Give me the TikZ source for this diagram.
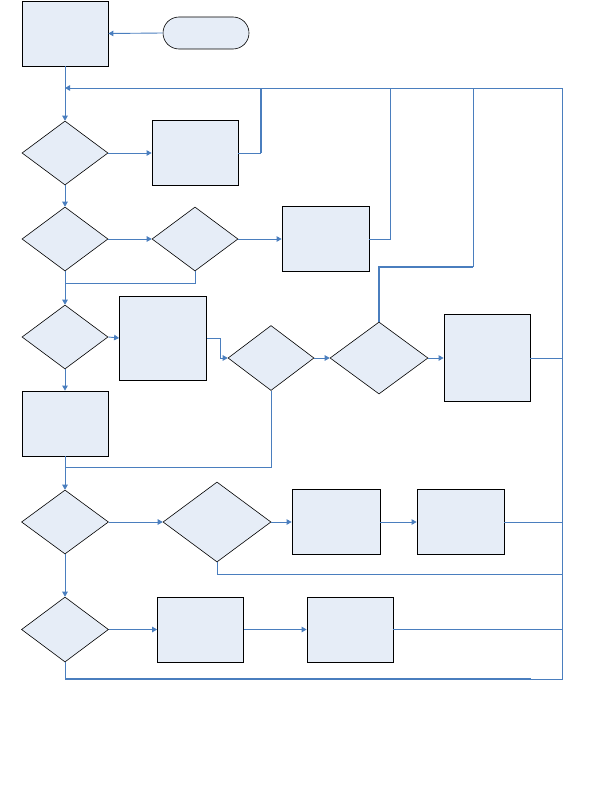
\documentclass[tikz,border=0pt]{standalone}
\usetikzlibrary{shapes.geometric,arrows.meta}
\definecolor{fillc}{RGB}{230,237,247}
\definecolor{linec}{RGB}{74,126,190}
\begin{document}
\begin{tikzpicture}[x=1pt,y=-1pt,
  box/.style={draw=black,fill=fillc,line width=0.8pt,inner sep=0pt,rectangle},
  dia/.style={draw=black,fill=fillc,line width=0.6pt,inner sep=0pt,diamond},
  term/.style={draw=black,fill=fillc,line width=0.6pt,inner sep=0pt,rectangle,rounded corners=16pt,minimum width=86pt,minimum height=32pt},
  conn/.style={draw=linec,line width=0.9pt},
  thickconn/.style={draw=linec,line width=1.8pt},
  arr/.style={conn,-{Triangle[length=5pt,width=5.5pt]}}]
\useasboundingbox (0,0) rectangle (589,808);
% nodes
\node[box,minimum width=86pt,minimum height=65pt] (A) at (65,33.5) {};
\node[term] (T) at (206,33) {};
\node[dia,minimum width=86pt,minimum height=64pt] (D1) at (65,153) {};
\node[box,minimum width=86pt,minimum height=65pt] (B1) at (195,153) {};
\node[dia,minimum width=86pt,minimum height=64pt] (D2) at (65,239) {};
\node[dia,minimum width=86pt,minimum height=64pt] (D3) at (195,239) {};
\node[box,minimum width=87pt,minimum height=65pt] (B2) at (325.5,239) {};
\node[dia,minimum width=86pt,minimum height=64pt] (D4) at (65,337) {};
\node[box,minimum width=87pt,minimum height=84pt] (B3) at (163,338) {};
\node[dia,minimum width=86pt,minimum height=65pt] (D5) at (271,358) {};
\node[dia,minimum width=98pt,minimum height=72pt] (D6) at (379,358) {};
\node[box,minimum width=86pt,minimum height=87pt] (B4) at (487,358) {};
\node[box,minimum width=86pt,minimum height=65pt] (B5) at (65,423.5) {};
\node[dia,minimum width=87pt,minimum height=64pt] (D7) at (65,522) {};
\node[dia,minimum width=108pt,minimum height=80pt] (D8) at (217,522) {};
\node[box,minimum width=88pt,minimum height=65pt] (B6) at (336,522) {};
\node[box,minimum width=87pt,minimum height=65pt] (B7) at (460.5,522) {};
\node[dia,minimum width=87pt,minimum height=65pt] (D9) at (65,629.5) {};
\node[box,minimum width=86pt,minimum height=65pt] (B8) at (200.5,629.5) {};
\node[box,minimum width=86pt,minimum height=65pt] (B9) at (350,629.5) {};
% helper coordinates
\coordinate (R88) at (562,88);
\coordinate (R679) at (562,679);
\coordinate (T679) at (531,679);
\coordinate (k261) at (261,88);
\coordinate (k390) at (390,88);
\coordinate (k220) at (220,358);
\coordinate (k267) at (473,267);
\coordinate (k473) at (473,88);
\coordinate (c283) at (65,283);
\coordinate (c467) at (65,467);
\coordinate (c574) at (562,574);
% connectors
\draw[arr] (T.west) -- (A.east);
\draw[arr] (A.south) -- (D1.north);
\draw[arr] (D9.south) |- (R679) -- (R88) -- (A.south |- R88);
\draw[thickconn] (D9.south |- R679) -- (T679);
\draw[arr] (D1.east) -- (B1.west);
\draw[conn] (B1.east) -- (B1.east -| k261);
\draw[thickconn] (B1.east -| k261) -- (k261);
\draw[arr] (D1.south) -- (D2.north);
\draw[arr] (D2.east) -- (D3.west);
\draw[arr] (D3.east) -- (B2.west);
\draw[conn] (B2.east) -| (k390);
\draw[conn] (D3.south) |- (c283);
\draw[arr] (D2.south) -- (D4.north);
\draw[arr] (D4.east) -- (B3.west);
\draw[arr] (B3.east) -| (k220) -- (D5.west);
\draw[arr] (D5.east) -- (D6.west);
\draw[thickconn] (D6.north) |- (k267);
\draw[conn] (k267) -- (k473);
\draw[arr] (D6.east) -- (B4.west);
\draw[conn] (B4.east) -- (B4.east -| R88);
\draw[conn] (D5.south) |- (c467);
\draw[arr] (D4.south) -- (B5.north);
\draw[arr] (B5.south) -- (D7.north);
\draw[arr] (D7.east) -- (D8.west);
\draw[arr] (D8.east) -- (B6.west);
\draw[arr] (B6.east) -- (B7.west);
\draw[conn] (B7.east) -- (B7.east -| R88);
\draw[conn] (D8.south) |- (c574);
\draw[arr] (D7.south) -- (D9.north);
\draw[arr] (D9.east) -- (B8.west);
\draw[arr] (B8.east) -- (B9.west);
\draw[conn] (B9.east) -- (B9.east -| R88);
\end{tikzpicture}
\end{document}
